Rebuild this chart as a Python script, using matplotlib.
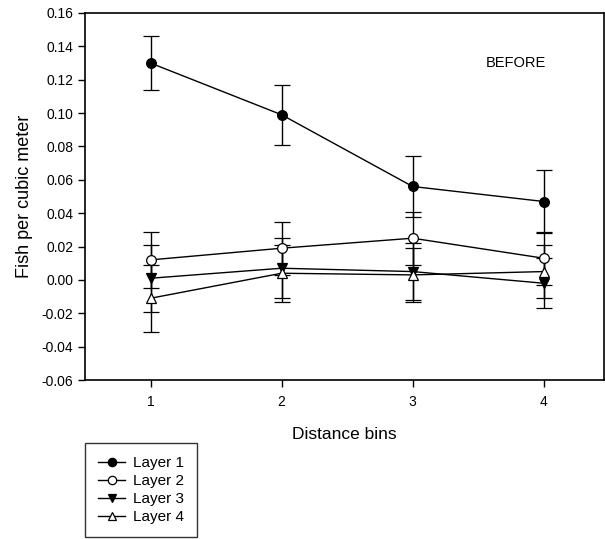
import matplotlib.pyplot as plt
from matplotlib.lines import Line2D

plt.rcParams['font.family'] = ['Liberation Sans', 'DejaVu Sans']

# distance bins and layer means with their error bars
bins = [1, 2, 3, 4]
layer1 = [0.130, 0.099, 0.056, 0.047]
layer1_err = [0.016, 0.018, 0.018, 0.019]
layer2 = [0.012, 0.019, 0.025, 0.013]
layer2_err = [0.017, 0.016, 0.016, 0.016]
layer3 = [0.001, 0.007, 0.005, -0.002]
layer3_err = [0.020, 0.018, 0.017, 0.015]
layer4 = [-0.011, 0.004, 0.003, 0.005]
layer4_err = [0.020, 0.017, 0.016, 0.016]

y_ticks = [-0.06, -0.04, -0.02, 0.00, 0.02, 0.04, 0.06, 0.08, 0.10, 0.12, 0.14, 0.16]

fig = plt.figure(figsize=(6.05, 5.39), dpi=100)
ax = fig.add_axes([85/605, 159/539, 519/605, 367/539])

styles = [
    ('Layer 1', layer1, layer1_err, 'o', 'black'),
    ('Layer 2', layer2, layer2_err, 'o', 'white'),
    ('Layer 3', layer3, layer3_err, 'v', 'black'),
    ('Layer 4', layer4, layer4_err, '^', 'white'),
]
handles = []
for name, vals, errs, mk, fc in styles:
    ax.errorbar(bins, vals, yerr=errs, color='black', lw=1, marker=mk,
                markersize=7, markerfacecolor=fc, markeredgecolor='black',
                markeredgewidth=0.9, capsize=6, capthick=1, elinewidth=1)
    handles.append(Line2D([], [], color='black', lw=1, marker=mk, markersize=6,
                          markerfacecolor=fc, markeredgecolor='black',
                          markeredgewidth=0.9, label=name))

ax.set_xlim(0.5, 4.46)
ax.set_ylim(-0.06, 0.16)
ax.set_xticks(bins)
ax.set_yticks(y_ticks)
ax.set_yticklabels([f'{v:.2f}' for v in y_ticks])
ax.tick_params(direction='out', length=5, width=1, labelsize=10, colors='black')
ax.tick_params(axis='x', pad=6)
for s in ax.spines.values():
    s.set_linewidth(1.2)

ax.set_xlabel('Distance bins', fontsize=12.5, labelpad=13)
ax.set_ylabel('Fish per cubic meter', fontsize=13, labelpad=6)
ax.text(3.79, 0.130, 'BEFORE', fontsize=10.5, ha='center', va='center')

leg = fig.legend(handles=handles, loc='lower left',
                 bbox_to_anchor=(85/605, 2/539),
                 fontsize=11, frameon=True, fancybox=False, edgecolor='black',
                 handlelength=1.8, borderpad=0.85, labelspacing=0.26,
                 handletextpad=0.5, borderaxespad=0)
leg.get_frame().set_linewidth(1)

plt.savefig('out.png', dpi=100)
